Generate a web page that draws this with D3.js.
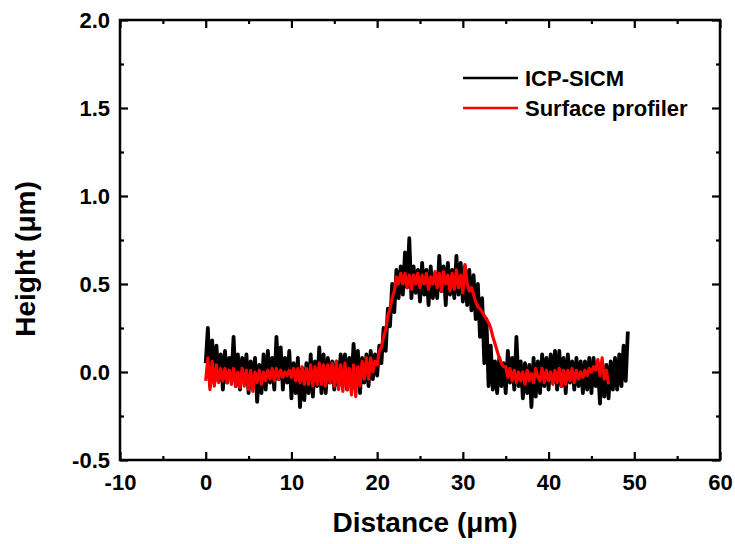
<!DOCTYPE html>
<html>
<head>
<meta charset="utf-8">
<script src="https://cdn.jsdelivr.net/npm/d3@7"></script>
<style>
	body { margin:0; background:#fff; }
	text { font-family: "Liberation Sans", Arial, sans-serif; font-weight:bold; }
</style>
</head>
<body>
<div id="c-svg"></div>
<script>
// sampling step of both profiles (µm)
const stepSicm = 0.25;
const stepProfiler = 0.25;

// ICP-SICM heights (µm), from x = 0
const sicmHeight = [
	0.05, 0.25, -0.08, 0.18,  -0.06, 0.15, -0.05, 0.10,  -0.10, 0.12, -0.06, 0.08,
	-0.04, 0.20, -0.08, 0.10,  -0.10, 0.08, -0.04, 0.10,  -0.12, 0.06, -0.08, 0.08,
	-0.17, 0.04, -0.12, 0.10,  -0.10, 0.12, -0.06, 0.08,  -0.10, 0.20, -0.04, 0.14,
	-0.10, 0.08, -0.06, 0.12,  -0.15, 0.05, -0.12, 0.08,  -0.20, 0.02, -0.16, 0.05,
	-0.12, 0.10, -0.14, 0.06,  -0.08, 0.14, -0.12, 0.10,  -0.12, 0.08, -0.06, 0.06,
	-0.10, 0.06, -0.08, 0.10,  -0.06, 0.10, -0.10, 0.08,  -0.08, 0.16, -0.06, 0.12,
	-0.12, 0.08, -0.06, 0.10,  -0.08, 0.12, -0.04, 0.10,  -0.02, 0.15, 0.05, 0.25,
	0.12, 0.36, 0.26, 0.50,  0.34, 0.58, 0.42, 0.60,  0.44, 0.68, 0.48, 0.76,
	0.42, 0.60, 0.45, 0.58,  0.40, 0.62, 0.44, 0.58,  0.38, 0.60, 0.42, 0.56,
	0.42, 0.66, 0.46, 0.60,  0.38, 0.62, 0.44, 0.58,  0.42, 0.66, 0.44, 0.62,
	0.40, 0.60, 0.38, 0.58,  0.35, 0.55, 0.30, 0.50,  0.20, 0.42, 0.05, 0.30,
	-0.08, 0.15, -0.10, 0.06,  -0.12, 0.08, -0.08, 0.05,  -0.12, 0.12, -0.06, 0.08,
	-0.10, 0.20, -0.08, 0.06,  -0.15, 0.05, -0.12, 0.04,  -0.20, 0.08, -0.14, 0.06,
	-0.12, 0.10, -0.08, 0.08,  -0.10, 0.10, -0.06, 0.12,  -0.10, 0.12, -0.08, 0.08,
	-0.12, 0.10, -0.06, 0.06,  -0.10, 0.08, -0.08, 0.06,  -0.12, 0.06, -0.10, 0.08,
	-0.12, 0.08, -0.08, 0.04,  -0.18, 0.05, -0.14, 0.04,  -0.15, 0.06, -0.10, 0.08,
	-0.10, 0.10, -0.08, 0.15,  -0.05, 0.23
];

// surface profiler heights (µm), from x = 0
const profilerHeight = [
	-0.05, 0.08, -0.10, 0.06,  -0.08, 0.04, -0.06, 0.02,  -0.05, 0.02, -0.06, 0.01,
	-0.07, 0.02, -0.08, 0.00,  -0.09, 0.02, -0.08, 0.01,  -0.10, 0.01, -0.11, 0.00,
	-0.06, 0.01, -0.07, 0.00,  -0.05, 0.01, -0.04, 0.02,  -0.05, 0.02, -0.04, 0.01,
	-0.03, 0.00, -0.02, 0.01,  -0.03, 0.02, -0.05, 0.02,  -0.06, 0.03, -0.07, 0.02,
	-0.07, 0.04, -0.08, 0.03,  -0.07, 0.05, -0.07, 0.04,  -0.08, 0.04, -0.06, 0.05,
	-0.08, 0.06, -0.10, 0.04,  -0.11, 0.05, -0.10, 0.02,  -0.13, 0.04, -0.14, 0.03,
	-0.08, 0.06, -0.04, 0.08,  -0.04, 0.08, 0.00, 0.06,  0.04, 0.12, 0.14, 0.20,
	0.24, 0.32, 0.36, 0.42,  0.46, 0.54, 0.50, 0.56,  0.50, 0.56, 0.48, 0.55,
	0.47, 0.55, 0.50, 0.56,  0.48, 0.55, 0.50, 0.56,  0.47, 0.54, 0.50, 0.57,
	0.48, 0.56, 0.46, 0.57,  0.50, 0.55, 0.46, 0.56,  0.47, 0.58, 0.48, 0.55,
	0.45, 0.61, 0.50, 0.46,  0.48, 0.44, 0.40, 0.37,  0.36, 0.34, 0.32, 0.30,
	0.28, 0.25, 0.20, 0.16,  0.12, 0.08, 0.05, 0.03,  0.03, -0.03, 0.02, -0.05,
	0.01, -0.06, 0.00, -0.05,  0.00, -0.07, 0.01, -0.05,  -0.01, -0.06, 0.02, -0.03,
	-0.05, 0.02, -0.06, 0.01,  -0.05, 0.00, -0.07, 0.01,  -0.06, 0.02, -0.08, 0.01,
	-0.07, 0.01, -0.05, 0.02,  -0.06, 0.01, -0.04, 0.00,  -0.03, 0.01, -0.02, 0.02,
	0.00, 0.03, 0.01, 0.07,  -0.02, 0.08, -0.04, 0.01,  -0.07
];

const seriesNames = ["ICP-SICM", "Surface profiler"];
const seriesColors = ["#000000", "#ff0000"];

const xTicks = [-10, 0, 10, 20, 30, 40, 50, 60];
const yTicks = [-0.5, 0.0, 0.5, 1.0, 1.5, 2.0];


function graph(){

	//sizing
	let width = 735, height = 544;
	let margin = {top:20, right:15, bottom:84, left:120};

	let svg = d3.select("#c-svg")
		.append("svg")
		.attr("width", width)
		.attr("height", height);

	let x = d3.scaleLinear().domain([-10, 60]).range([margin.left, width - margin.right]);
	let y = d3.scaleLinear().domain([-0.5, 2.0]).range([height - margin.bottom, margin.top]);

	let x0 = margin.left, x1 = width - margin.right;
	let y0 = height - margin.bottom, y1 = margin.top;

	//hyphen minus like the original
	let fmtX = d => String(d);
	let fmtY = d => d.toFixed(1);

	//data lines
	let sicm = sicmHeight.map((h,i) => [i*stepSicm, h]);
	let prof = profilerHeight.map((h,i) => [i*stepProfiler, h]);

	let line = d3.line()
		.x(d => x(d[0]))
		.y(d => y(d[1]));

	svg.append("path")
		.datum(sicm)
		.attr("d", line)
		.attr("fill", "none")
		.attr("stroke", seriesColors[0])
		.attr("stroke-width", 3.8)
		.attr("stroke-linejoin", "round");

	svg.append("path")
		.datum(prof)
		.attr("d", line)
		.attr("fill", "none")
		.attr("stroke", seriesColors[1])
		.attr("stroke-width", 3.2)
		.attr("stroke-linejoin", "round");

	//axes, ticks inward on all sides
	let xMinor = d3.range(-5, 60, 10);
	let yMinor = d3.range(-0.25, 2.0, 0.5);

	svg.append("g").attr("transform", `translate(0,${y0})`)
		.call(d3.axisBottom(x).tickValues(xTicks).tickSize(-8).tickPadding(14).tickFormat(fmtX));
	svg.append("g").attr("transform", `translate(0,${y0})`)
		.call(d3.axisBottom(x).tickValues(xMinor).tickSize(-4).tickFormat(""));
	svg.append("g").attr("transform", `translate(0,${y1})`)
		.call(d3.axisTop(x).tickValues(xTicks).tickSize(-8).tickFormat(""));
	svg.append("g").attr("transform", `translate(0,${y1})`)
		.call(d3.axisTop(x).tickValues(xMinor).tickSize(-4).tickFormat(""));

	svg.append("g").attr("transform", `translate(${x0},0)`)
		.call(d3.axisLeft(y).tickValues(yTicks).tickSize(-8).tickPadding(10).tickFormat(fmtY));
	svg.append("g").attr("transform", `translate(${x0},0)`)
		.call(d3.axisLeft(y).tickValues(yMinor).tickSize(-4).tickFormat(""));
	svg.append("g").attr("transform", `translate(${x1},0)`)
		.call(d3.axisRight(y).tickValues(yTicks).tickSize(-8).tickFormat(""));
	svg.append("g").attr("transform", `translate(${x1},0)`)
		.call(d3.axisRight(y).tickValues(yMinor).tickSize(-4).tickFormat(""));

	svg.selectAll(".domain").remove();
	svg.selectAll(".tick line").attr("stroke", "#000").attr("stroke-width", 2.2);
	svg.selectAll(".tick text")
		.attr("fill", "#000")
		.style("font-family", "'Liberation Sans', Arial, sans-serif")
		.style("font-size", "22px");

	//frame
	svg.append("rect")
		.attr("x", x0).attr("y", y1)
		.attr("width", x1 - x0).attr("height", y0 - y1)
		.attr("fill", "none")
		.attr("stroke", "#000")
		.attr("stroke-width", 2.5);

	//titles
	svg.append("text")
		.attr("x", 425)
		.attr("y", 532)
		.attr("text-anchor", "middle")
		.style("font-size", "28px")
		.text("Distance (\u03bcm)");

	svg.append("text")
		.attr("transform", "translate(35,259) rotate(-90)")
		.attr("text-anchor", "middle")
		.style("font-size", "28px")
		.text("Height (\u03bcm)");

	//legend
	let legend = svg.append("g").attr("transform", "translate(463,78)");
	seriesNames.forEach((name, i) => {
		let g = legend.append("g").attr("transform", `translate(0,${i*30})`);
		g.append("line")
			.attr("x1", 0).attr("x2", 55)
			.attr("stroke", seriesColors[i])
			.attr("stroke-width", 2.5);
		g.append("text")
			.attr("x", 62).attr("y", 0)
			.attr("dy", "0.35em")
			.style("font-size", "22px")
			.text(name);
	});

}

graph();
</script>
</body>
</html>
